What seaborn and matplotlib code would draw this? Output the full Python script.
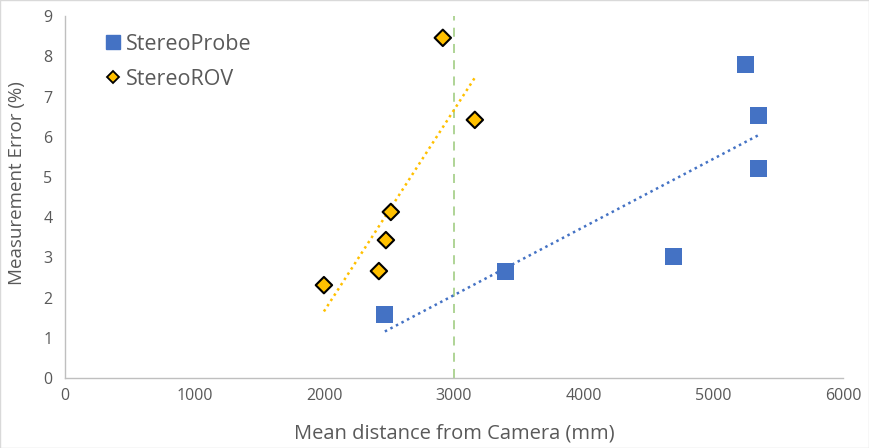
import matplotlib
matplotlib.use("Agg")
import matplotlib.pyplot as plt
import seaborn as sns
import pandas as pd
import numpy as np
from matplotlib.lines import Line2D

probe_x = [2467, 3400, 4695, 5250, 5351, 5351]
probe_y = [1.59, 2.64, 3.03, 7.79, 6.54, 5.20]
rov_x = [1997, 2421, 2475, 2513, 2914, 3161]
rov_y = [2.31, 2.66, 3.43, 4.13, 8.46, 6.42]
series = ["StereoProbe", "StereoROV"]
threshold_x = 3000

df = pd.DataFrame({
    "x": probe_x + rov_x,
    "y": probe_y + rov_y,
    "series": [series[0]] * len(probe_x) + [series[1]] * len(rov_x),
})

sns.set_theme(style="white")
plt.rcParams['font.family'] = ['Open Sans', 'DejaVu Sans']

fig = plt.figure(figsize=(8.69, 4.48), dpi=100)
ax = fig.add_axes([0.0748, 0.1562, 0.8952, 0.8078])

blue = "#4472C4"
gold = "#FFC000"
grey = "#595959"

sns.regplot(data=df[df.series == series[0]], x="x", y="y", ax=ax, scatter=False, ci=None,
            color=blue, line_kws={"ls": (0, (1, 1.5)), "lw": 1.8})
sns.regplot(data=df[df.series == series[1]], x="x", y="y", ax=ax, scatter=False, ci=None,
            color=gold, line_kws={"ls": (0, (1, 1.5)), "lw": 1.8})

ax.axvline(threshold_x, color="#A9D18E", ls=(0, (5, 4)), lw=1.3, zorder=1)

sns.scatterplot(data=df, x="x", y="y", hue="series", style="series",
                palette={series[0]: blue, series[1]: gold},
                markers={series[0]: "s", series[1]: "D"},
                ax=ax, s=120, linewidth=0, zorder=3, legend=False)
pc = ax.collections[-1]
pc.set_edgecolor([(0, 0, 0, 0)] * len(probe_x) + [(0, 0, 0, 1)] * len(rov_x))
pc.set_linewidths([0] * len(probe_x) + [1.5] * len(rov_x))
pc.set_sizes([150] * len(probe_x) + [70] * len(rov_x))

handles = [Line2D([], [], marker="s", color=blue, ls="", markersize=10),
           Line2D([], [], marker="D", markerfacecolor=gold, markeredgecolor="black",
                  markeredgewidth=1.3, ls="", markersize=6.5)]
leg = ax.legend(handles, series, loc="upper left", bbox_to_anchor=(0.02, 1.005), frameon=False,
                handletextpad=0.0, labelspacing=0.65, fontsize=15.5, handlelength=1.2)
for t in leg.get_texts():
    t.set_color(grey)

ax.set_xlim(0, 6000)
ax.set_ylim(0, 9)
ax.set_xticks(range(0, 6001, 1000))
ax.set_yticks(range(0, 10))
ax.tick_params(axis="both", labelsize=11.5, colors=grey, length=0)
ax.tick_params(axis="x", pad=7)
ax.tick_params(axis="y", pad=9)
ax.set_xlabel("Mean distance from Camera (mm)", fontsize=14.5, color=grey)
ax.set_ylabel("Measurement Error (%)", fontsize=13.5, color=grey)
ax.xaxis.set_label_coords(0.5, -0.125)
ax.yaxis.set_label_coords(-0.050, 0.54)

for s in ["top", "right"]:
    ax.spines[s].set_visible(False)
for s in ["bottom", "left"]:
    ax.spines[s].set_color("#BFBFBF")
    ax.spines[s].set_linewidth(1)

fig.patches.append(plt.Rectangle((0, 0), 1, 1, transform=fig.transFigure, fill=False,
                                 edgecolor="#D9D9D9", lw=1))

fig.savefig("out.png", dpi=100)
